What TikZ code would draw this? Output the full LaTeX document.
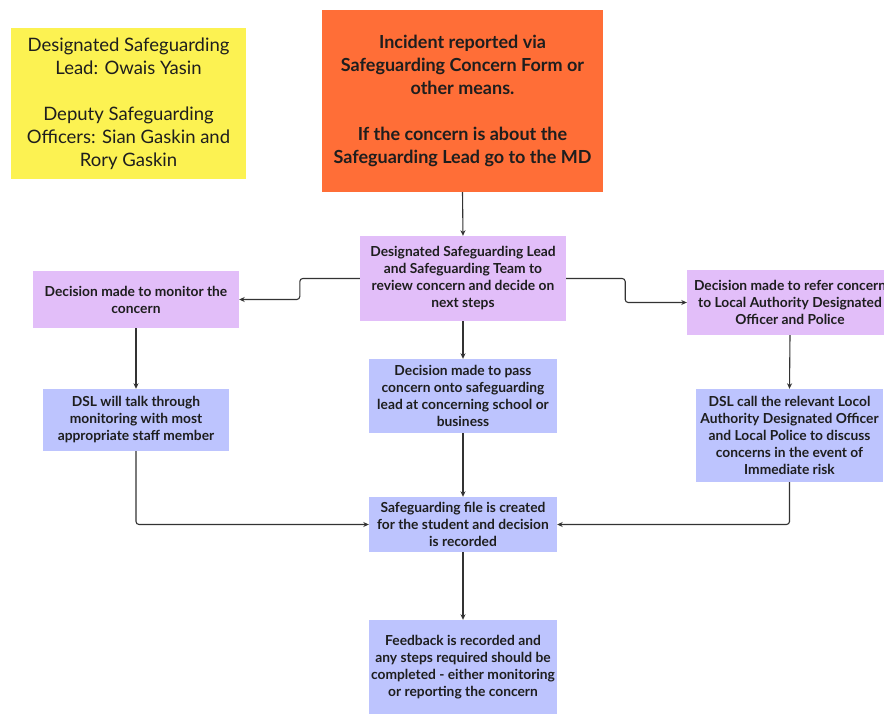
\documentclass[tikz,border=0pt]{standalone}
\usepackage{fontspec}
\setmainfont{Lato}
\usetikzlibrary{arrows.meta}
\definecolor{cyellow}{RGB}{252,242,82}
\definecolor{corange}{RGB}{255,110,55}
\definecolor{cpurple}{RGB}{226,190,249}
\definecolor{cblue}{RGB}{189,196,254}
\definecolor{cline}{RGB}{51,51,51}
\definecolor{ctext}{RGB}{30,30,30}
\tikzset{
  box/.style={rectangle, inner sep=0pt, align=center, text=ctext},
  small/.style={box, font=\fontsize{13.8}{17}\selectfont\bfseries},
  conn/.style={draw=cline, line width=1.1pt, rounded corners=3pt, -{Stealth[length=5.5pt,width=5pt]}},
}
\begin{document}
\begin{tikzpicture}[x=1pt,y=-1pt]
\useasboundingbox (0,0) rectangle (884,714);
\fill[white] (0,0) rectangle (884,714);

\node[box, fill=cyellow, minimum width=235pt, minimum height=151pt,
  font=\fontsize{18.5}{23}\selectfont] (lead) at (128.5,103.5)
  {Designated Safeguarding\\Lead: Owais Yasin\\[23pt]Deputy Safeguarding\\Officers: Sian Gaskin and\\Rory Gaskin};

\node[box, fill=corange, minimum width=281pt, minimum height=182pt,
  font=\fontsize{18}{23}\selectfont\bfseries] (inc) at (462.5,101)
  {Incident reported via\\Safeguarding Concern Form or\\other means.\\[23pt]If the concern is about the\\Safeguarding Lead go to the MD};

\node[small, fill=cpurple, minimum width=206pt, minimum height=85pt] (cp) at (463,278.5)
  {Designated Safeguarding Lead\\and Safeguarding Team to\\review concern and decide on\\next steps};

\node[small, fill=cpurple, minimum width=206pt, minimum height=57pt] (lp) at (136,299.5)
  {Decision made to monitor the\\concern};

\node[small, fill=cpurple, minimum width=206pt, minimum height=65pt] (rp) at (790,302.5)
  {Decision made to refer concern\\to Local Authority Designated\\Officer and Police};

\node[small, fill=cblue, minimum width=186pt, minimum height=62pt] (lb) at (136,420)
  {DSL will talk through\\monitoring with most\\appropriate staff member};

\node[small, fill=cblue, minimum width=188pt, minimum height=74pt] (cb) at (463,396)
  {Decision made to pass\\concern onto safeguarding\\lead at concerning school or\\business};

\node[small, fill=cblue, minimum width=187pt, minimum height=93pt] (rb) at (789.5,435.5)
  {DSL call the relevant Locol\\Authority Designated Officer\\and Local Police to discuss\\concerns in the event of\\Immediate risk};

\node[small, fill=cblue, minimum width=188pt, minimum height=55pt] (file) at (463,524.5)
  {Safeguarding file is created\\for the student and decision\\is recorded};

\node[small, fill=cblue, minimum width=188pt, minimum height=94pt] (fb) at (463,667)
  {Feedback is recorded and\\any steps required should be\\completed - either monitoring\\or reporting the concern};

\draw[conn] (inc.south) -- (cp.north);
\draw[conn] (cp.west) -- ++(-60,0) |- (lp.east);
\draw[conn] (cp.east) -- ++(59,0) |- (rp.west);
\draw[conn] (lp.south) -- (lb.north);
\draw[conn] (cp.south) -- (cb.north);
\draw[conn] (rp.south) -- (rb.north);
\draw[conn] (lb.south) |- (file.west);
\draw[conn] (rb.south) |- (file.east);
\draw[conn] (cb.south) -- (file.north);
\draw[conn] (file.south) -- (fb.north);
\end{tikzpicture}
\end{document}
